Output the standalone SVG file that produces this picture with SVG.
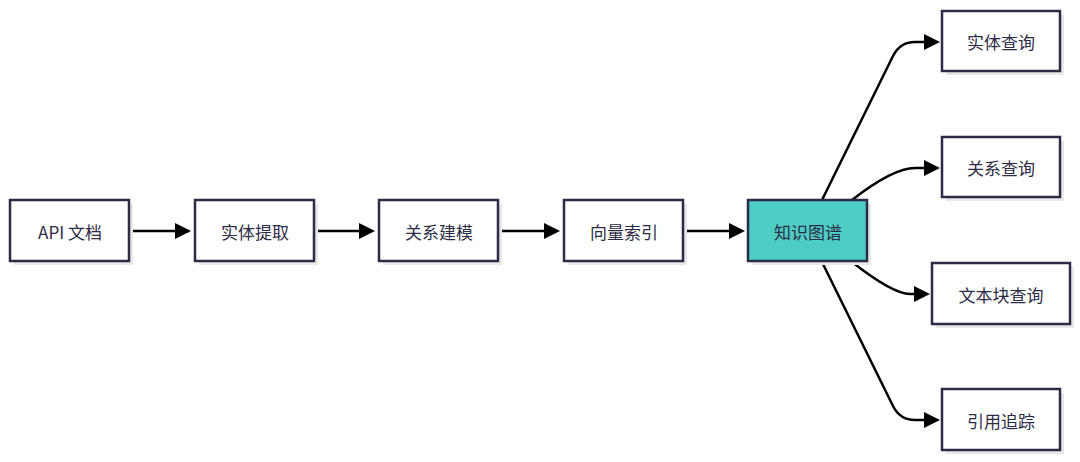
<svg xmlns="http://www.w3.org/2000/svg" width="1080" height="462" viewBox="0 0 1080 462">
<style>
.b{fill:#fff;stroke:#2d2b45;stroke-width:2.5}
.s{fill:#e8e8e8}
.t{font-family:"Noto Sans CJK SC","Liberation Sans",sans-serif;font-size:17px;fill:#2d2b45;text-anchor:middle;dominant-baseline:central}
.e{fill:none;stroke:#000;stroke-width:2.5;marker-end:url(#a)}
</style>
<defs><marker id="a" viewBox="0 0 10 10" refX="9" refY="5" markerWidth="7" markerHeight="7" markerUnits="userSpaceOnUse" orient="auto"><path d="M0,0L10,5L0,10z" fill="#000" transform="scale(1)"/></marker></defs>
<rect width="1080" height="462" fill="#fff"/>
<g id="connectors">
<path class="e" d="M130,231H189" style="marker-end:none"/><path d="M175,223L191,231L175,239z"/>
<path d="M314,231H360"  stroke="#000" stroke-width="2.5"/><path d="M359,223L375,231L359,239z"/>
<path d="M498,231H545" stroke="#000" stroke-width="2.5"/><path d="M544,223L560,231L544,239z"/>
<path d="M683,231H730" stroke="#000" stroke-width="2.5"/><path d="M729,223L745,231L729,239z"/>
<path d="M822,200L893,56Q900,42 915,42L925,42" fill="none" stroke="#000" stroke-width="2.5"/><path d="M924,34L940,42L924,50z"/>
<path d="M852,200Q893,168 915,168L925,168" fill="none" stroke="#000" stroke-width="2.5"/><path d="M924,160L940,168L924,176z"/>
<path d="M852,262Q893,294 910,294L915,294" fill="none" stroke="#000" stroke-width="2.5"/><path d="M914,286L930,294L914,302z"/>
<path d="M822,262L893,406Q900,420 915,420L925,420" fill="none" stroke="#000" stroke-width="2.5"/><path d="M924,412L940,420L924,428z"/>
</g>
<g id="n1"><rect class="s" x="14" y="204" width="119" height="61"/><rect class="b" x="10" y="200" width="119" height="61"/><text class="t" x="70" y="231">API 文档</text></g>
<g id="n2"><rect class="s" x="199" y="204" width="119" height="61"/><rect class="b" x="195" y="200" width="119" height="61"/><text class="t" x="255" y="231">实体提取</text></g>
<g id="n3"><rect class="s" x="383" y="204" width="119" height="61"/><rect class="b" x="379" y="200" width="119" height="61"/><text class="t" x="439" y="231">关系建模</text></g>
<g id="n4"><rect class="s" x="568" y="204" width="119" height="61"/><rect class="b" x="564" y="200" width="119" height="61"/><text class="t" x="624" y="231">向量索引</text></g>
<g id="n5"><rect class="s" x="752" y="204" width="119" height="61"/><rect class="b" x="748" y="200" width="119" height="61" style="fill:#4ecdc4"/><text class="t" x="808" y="231">知识图谱</text></g>
<g id="n6"><rect class="s" x="946" y="15" width="118" height="60"/><rect class="b" x="942" y="11" width="118" height="60"/><text class="t" x="1001" y="41">实体查询</text></g>
<g id="n7"><rect class="s" x="946" y="141" width="118" height="60"/><rect class="b" x="942" y="137" width="118" height="60"/><text class="t" x="1001" y="167">关系查询</text></g>
<g id="n8"><rect class="s" x="936" y="267" width="138" height="61"/><rect class="b" x="932" y="263" width="138" height="61"/><text class="t" x="1001" y="294">文本块查询</text></g>
<g id="n9"><rect class="s" x="946" y="393" width="118" height="61"/><rect class="b" x="942" y="389" width="118" height="61"/><text class="t" x="1001" y="420">引用追踪</text></g>
</svg>
